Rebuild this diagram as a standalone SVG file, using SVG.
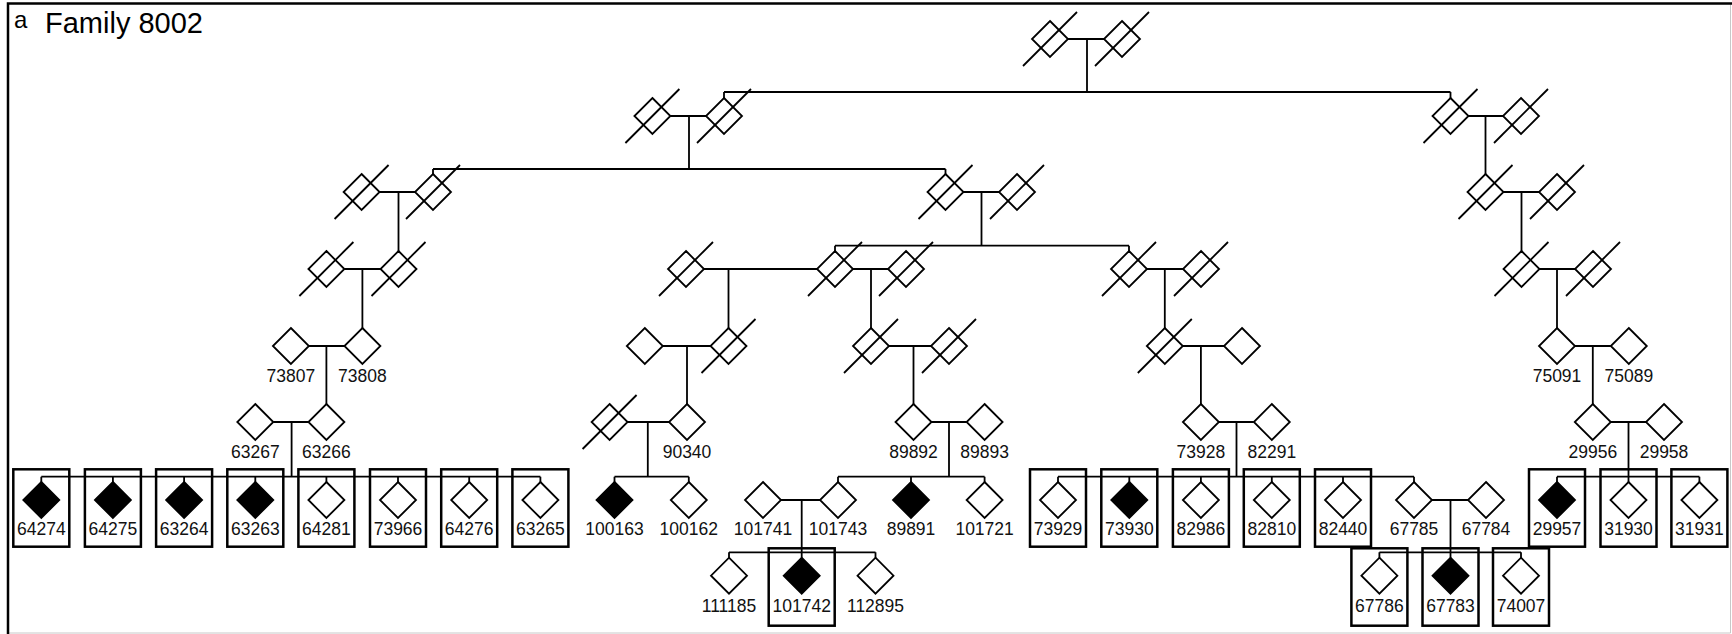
<svg xmlns="http://www.w3.org/2000/svg" xmlns:xlink="http://www.w3.org/1999/xlink" width="1732" height="634" viewBox="0 0 1732 634">
<style>
.ln{fill:none;stroke:#000;stroke-width:1.8}
.o{fill:#fff;stroke:#000;stroke-width:1.8}
.f{fill:#000;stroke:#000;stroke-width:1.8}
.sl{stroke:#000;stroke-width:1.8}
.bx{fill:none;stroke:#000;stroke-width:2.5}
.lb{font-family:"Liberation Sans",Arial,sans-serif;font-size:17.5px;text-anchor:middle;fill:#111}
.tt{font-family:"Liberation Sans",Arial,sans-serif;fill:#000}
</style>
<defs>
<path id="d" d="M0,-18L18,0L0,18L-18,0Z"/>
<g id="x"><use href="#d" xlink:href="#d" class="o"/><line x1="-27" y1="27" x2="27" y2="-27" class="sl"/></g>
</defs>
<rect width="1732" height="634" fill="#fff"/>
<g id="frame">
<path d="M1730.5,3.5V633H8" fill="none" stroke="#c8c8c8" stroke-width="1"/>
<path d="M8,634V3.5H1732" fill="none" stroke="#000" stroke-width="2.5"/>
<text class="tt" x="14" y="28" font-size="24">a</text>
<text class="tt" x="45" y="33" font-size="29">Family 8002</text>
</g>
<g id="connectors" class="ln">
<path d="M1068,39H1104M670.4,116H706M1468.5,116H1503M379.6,192H415M963,192H999M1503.5,192H1539M344.4,269H380M704,269H817M853,269H888M1147,269H1183M1539.5,269H1575M308.9,346H344.4M662.8,346H710.5M889,346H931M1182.8,346H1224M1575,346H1610.8M273.3,422H308.4M627.6,422H669M931.5,422H966.6M1218.9,422H1253.8M1610.8,422H1646M781,500H820M1432,500H1468"/>
<path d="M1087,39V92M724,92H1450.5M724,92V98M1450.5,92V98"/>
<path d="M689,116V169M433,169H945.5M433,169V174M945.5,169V174"/>
<path d="M1485.5,116V174"/>
<path d="M398.5,192V251M981.5,192V245.7M835,245.7H1129M835,245.7V251M1129,245.7V251M1521.5,192V251"/>
<path d="M362.4,269V328M728.5,269V328M871,269V328M1164.8,269V328M1557,269V328"/>
<path d="M326.4,346V404M687,346V404M913.5,346V404M1200.9,346V404M1592.8,346V404"/>
<path d="M291.6,422V476.7M41.3,476.7H540.4M41.3,476.7V482M112.9,476.7V482M184.1,476.7V482M255.3,476.7V482M326.4,476.7V482M398,476.7V482M469.2,476.7V482M540.4,476.7V482"/>
<path d="M647.8,422V476.7M614.5,476.7H688.8M614.5,476.7V482M688.8,476.7V482"/>
<path d="M949,422V476.7M838,476.7H984.6M838,476.7V482M911,476.7V482M984.6,476.7V482"/>
<path d="M1236.5,422V476.7M1058,476.7H1414M1058,476.7V482M1129.3,476.7V482M1200.9,476.7V482M1271.8,476.7V482M1343,476.7V482M1414,476.7V482"/>
<path d="M1628.5,422V482M1557,476.7H1699.4M1557,476.7V482M1699.4,476.7V482"/>
<path d="M801.7,500V557.7M729,552.3H875.5M729,552.3V557.7M875.5,552.3V557.7"/>
<path d="M1450.5,500V557.7M1379.4,552.3H1521M1379.4,552.3V557.7M1521,552.3V557.7"/>
</g>
<g id="gen1">
<g id="g1a" transform="translate(1050,39)"><use href="#x" xlink:href="#x"/></g>
<g id="g1b" transform="translate(1122,39)"><use href="#x" xlink:href="#x"/></g>
</g>
<g id="gen2">
<g id="g2a" transform="translate(652.4,116)"><use href="#x" xlink:href="#x"/></g>
<g id="g2b" transform="translate(724,116)"><use href="#x" xlink:href="#x"/></g>
<g id="g2c" transform="translate(1450.5,116)"><use href="#x" xlink:href="#x"/></g>
<g id="g2d" transform="translate(1521,116)"><use href="#x" xlink:href="#x"/></g>
</g>
<g id="gen3">
<g id="g3a" transform="translate(361.6,192)"><use href="#x" xlink:href="#x"/></g>
<g id="g3b" transform="translate(433,192)"><use href="#x" xlink:href="#x"/></g>
<g id="g3c" transform="translate(945.5,192)"><use href="#x" xlink:href="#x"/></g>
<g id="g3d" transform="translate(1017,192)"><use href="#x" xlink:href="#x"/></g>
<g id="g3e" transform="translate(1485.5,192)"><use href="#x" xlink:href="#x"/></g>
<g id="g3f" transform="translate(1557,192)"><use href="#x" xlink:href="#x"/></g>
</g>
<g id="gen4">
<g id="g4a" transform="translate(326.4,269)"><use href="#x" xlink:href="#x"/></g>
<g id="g4b" transform="translate(398.5,269)"><use href="#x" xlink:href="#x"/></g>
<g id="g4c" transform="translate(686,269)"><use href="#x" xlink:href="#x"/></g>
<g id="g4d" transform="translate(835,269)"><use href="#x" xlink:href="#x"/></g>
<g id="g4e" transform="translate(906,269)"><use href="#x" xlink:href="#x"/></g>
<g id="g4f" transform="translate(1129,269)"><use href="#x" xlink:href="#x"/></g>
<g id="g4g" transform="translate(1201,269)"><use href="#x" xlink:href="#x"/></g>
<g id="g4h" transform="translate(1521.5,269)"><use href="#x" xlink:href="#x"/></g>
<g id="g4i" transform="translate(1593,269)"><use href="#x" xlink:href="#x"/></g>
</g>
<g id="gen5">
<g id="p73807" transform="translate(290.9,346)"><use href="#d" xlink:href="#d" class="o"/><text class="lb" y="35.7">73807</text></g>
<g id="p73808" transform="translate(362.4,346)"><use href="#d" xlink:href="#d" class="o"/><text class="lb" y="35.7">73808</text></g>
<g id="g5a" transform="translate(644.8,346)"><use href="#d" xlink:href="#d" class="o"/></g>
<g id="g5b" transform="translate(728.5,346)"><use href="#x" xlink:href="#x"/></g>
<g id="g5c" transform="translate(871,346)"><use href="#x" xlink:href="#x"/></g>
<g id="g5d" transform="translate(949,346)"><use href="#x" xlink:href="#x"/></g>
<g id="g5e" transform="translate(1164.8,346)"><use href="#x" xlink:href="#x"/></g>
<g id="g5f" transform="translate(1242,346)"><use href="#d" xlink:href="#d" class="o"/></g>
<g id="p75091" transform="translate(1557,346)"><use href="#d" xlink:href="#d" class="o"/><text class="lb" y="35.7">75091</text></g>
<g id="p75089" transform="translate(1628.8,346)"><use href="#d" xlink:href="#d" class="o"/><text class="lb" y="35.7">75089</text></g>
</g>
<g id="gen6">
<g id="p63267" transform="translate(255.3,422)"><use href="#d" xlink:href="#d" class="o"/><text class="lb" y="35.7">63267</text></g>
<g id="p63266" transform="translate(326.4,422)"><use href="#d" xlink:href="#d" class="o"/><text class="lb" y="35.7">63266</text></g>
<g id="g6a" transform="translate(609.6,422)"><use href="#x" xlink:href="#x"/></g>
<g id="p90340" transform="translate(687,422)"><use href="#d" xlink:href="#d" class="o"/><text class="lb" y="35.7">90340</text></g>
<g id="p89892" transform="translate(913.5,422)"><use href="#d" xlink:href="#d" class="o"/><text class="lb" y="35.7">89892</text></g>
<g id="p89893" transform="translate(984.6,422)"><use href="#d" xlink:href="#d" class="o"/><text class="lb" y="35.7">89893</text></g>
<g id="p73928" transform="translate(1200.9,422)"><use href="#d" xlink:href="#d" class="o"/><text class="lb" y="35.7">73928</text></g>
<g id="p82291" transform="translate(1271.8,422)"><use href="#d" xlink:href="#d" class="o"/><text class="lb" y="35.7">82291</text></g>
<g id="p29956" transform="translate(1592.8,422)"><use href="#d" xlink:href="#d" class="o"/><text class="lb" y="35.7">29956</text></g>
<g id="p29958" transform="translate(1664,422)"><use href="#d" xlink:href="#d" class="o"/><text class="lb" y="35.7">29958</text></g>
</g>
<g id="gen7">
<g id="p64274" transform="translate(41.3,500)"><use href="#d" xlink:href="#d" class="f"/><text class="lb" y="35">64274</text><rect class="bx" x="-28" y="-30.7" width="56" height="77.4"/></g>
<g id="p64275" transform="translate(112.9,500)"><use href="#d" xlink:href="#d" class="f"/><text class="lb" y="35">64275</text><rect class="bx" x="-28" y="-30.7" width="56" height="77.4"/></g>
<g id="p63264" transform="translate(184.1,500)"><use href="#d" xlink:href="#d" class="f"/><text class="lb" y="35">63264</text><rect class="bx" x="-28" y="-30.7" width="56" height="77.4"/></g>
<g id="p63263" transform="translate(255.3,500)"><use href="#d" xlink:href="#d" class="f"/><text class="lb" y="35">63263</text><rect class="bx" x="-28" y="-30.7" width="56" height="77.4"/></g>
<g id="p64281" transform="translate(326.4,500)"><use href="#d" xlink:href="#d" class="o"/><text class="lb" y="35">64281</text><rect class="bx" x="-28" y="-30.7" width="56" height="77.4"/></g>
<g id="p73966" transform="translate(398,500)"><use href="#d" xlink:href="#d" class="o"/><text class="lb" y="35">73966</text><rect class="bx" x="-28" y="-30.7" width="56" height="77.4"/></g>
<g id="p64276" transform="translate(469.2,500)"><use href="#d" xlink:href="#d" class="o"/><text class="lb" y="35">64276</text><rect class="bx" x="-28" y="-30.7" width="56" height="77.4"/></g>
<g id="p63265" transform="translate(540.4,500)"><use href="#d" xlink:href="#d" class="o"/><text class="lb" y="35">63265</text><rect class="bx" x="-28" y="-30.7" width="56" height="77.4"/></g>
<g id="p100163" transform="translate(614.5,500)"><use href="#d" xlink:href="#d" class="f"/><text class="lb" y="35">100163</text></g>
<g id="p100162" transform="translate(688.8,500)"><use href="#d" xlink:href="#d" class="o"/><text class="lb" y="35">100162</text></g>
<g id="p101741" transform="translate(763,500)"><use href="#d" xlink:href="#d" class="o"/><text class="lb" y="35">101741</text></g>
<g id="p101743" transform="translate(838,500)"><use href="#d" xlink:href="#d" class="o"/><text class="lb" y="35">101743</text></g>
<g id="p89891" transform="translate(911,500)"><use href="#d" xlink:href="#d" class="f"/><text class="lb" y="35">89891</text></g>
<g id="p101721" transform="translate(984.6,500)"><use href="#d" xlink:href="#d" class="o"/><text class="lb" y="35">101721</text></g>
<g id="p73929" transform="translate(1058,500)"><use href="#d" xlink:href="#d" class="o"/><text class="lb" y="35">73929</text><rect class="bx" x="-28" y="-30.7" width="56" height="77.4"/></g>
<g id="p73930" transform="translate(1129.3,500)"><use href="#d" xlink:href="#d" class="f"/><text class="lb" y="35">73930</text><rect class="bx" x="-28" y="-30.7" width="56" height="77.4"/></g>
<g id="p82986" transform="translate(1200.9,500)"><use href="#d" xlink:href="#d" class="o"/><text class="lb" y="35">82986</text><rect class="bx" x="-28" y="-30.7" width="56" height="77.4"/></g>
<g id="p82810" transform="translate(1271.8,500)"><use href="#d" xlink:href="#d" class="o"/><text class="lb" y="35">82810</text><rect class="bx" x="-28" y="-30.7" width="56" height="77.4"/></g>
<g id="p82440" transform="translate(1343,500)"><use href="#d" xlink:href="#d" class="o"/><text class="lb" y="35">82440</text><rect class="bx" x="-28" y="-30.7" width="56" height="77.4"/></g>
<g id="p67785" transform="translate(1414,500)"><use href="#d" xlink:href="#d" class="o"/><text class="lb" y="35">67785</text></g>
<g id="p67784" transform="translate(1486,500)"><use href="#d" xlink:href="#d" class="o"/><text class="lb" y="35">67784</text></g>
<g id="p29957" transform="translate(1557,500)"><use href="#d" xlink:href="#d" class="f"/><text class="lb" y="35">29957</text><rect class="bx" x="-28" y="-30.7" width="56" height="77.4"/></g>
<g id="p31930" transform="translate(1628.5,500)"><use href="#d" xlink:href="#d" class="o"/><text class="lb" y="35">31930</text><rect class="bx" x="-28" y="-30.7" width="56" height="77.4"/></g>
<g id="p31931" transform="translate(1699.4,500)"><use href="#d" xlink:href="#d" class="o"/><text class="lb" y="35">31931</text><rect class="bx" x="-28" y="-30.7" width="56" height="77.4"/></g>
</g>
<g id="gen8">
<g id="p111185" transform="translate(729,575.7)"><use href="#d" xlink:href="#d" class="o"/><text class="lb" y="36">111185</text></g>
<g id="p101742" transform="translate(801.7,575.7)"><use href="#d" xlink:href="#d" class="f"/><text class="lb" y="36">101742</text><rect class="bx" x="-33" y="-27.4" width="66" height="77.4"/></g>
<g id="p112895" transform="translate(875.5,575.7)"><use href="#d" xlink:href="#d" class="o"/><text class="lb" y="36">112895</text></g>
<g id="p67786" transform="translate(1379.4,575.7)"><use href="#d" xlink:href="#d" class="o"/><text class="lb" y="36">67786</text><rect class="bx" x="-28" y="-27.4" width="56" height="77.4"/></g>
<g id="p67783" transform="translate(1450.5,575.7)"><use href="#d" xlink:href="#d" class="f"/><text class="lb" y="36">67783</text><rect class="bx" x="-28" y="-27.4" width="56" height="77.4"/></g>
<g id="p74007" transform="translate(1521,575.7)"><use href="#d" xlink:href="#d" class="o"/><text class="lb" y="36">74007</text><rect class="bx" x="-28" y="-27.4" width="56" height="77.4"/></g>
</g>
</svg>
